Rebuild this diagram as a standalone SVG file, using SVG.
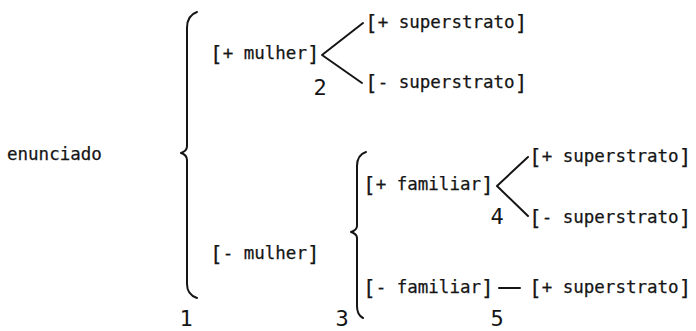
<svg xmlns="http://www.w3.org/2000/svg" width="696" height="331" viewBox="0 0 696 331">
  <style>
    .t { font-family: "DejaVu Sans Mono", "Liberation Mono", monospace; font-size: 17.5px; fill: #151515; stroke: #151515; stroke-width: 0.25; }
    .b { font-size: 21px; }
    .n { font-family: "DejaVu Sans Mono", "Liberation Mono", monospace; font-size: 22px; fill: #151515; text-anchor: middle; }
    .c { fill: none; stroke: #151515; stroke-width: 2; stroke-linecap: round; stroke-linejoin: round; }
  </style>
  <rect width="696" height="331" fill="#ffffff"/>

  <!-- connectors: braces, forks and the single link -->
  <g id="connectors">
    <path class="c" d="M197,12 C191,14 187,19 187,28 L187,146 C187,150 184,152 181,153 C184,154 187,156 187,160 L187,284 C187,292 191,296 197,298"/>
    <path class="c" d="M366,152 C360,154 357,158 357,166 L357,226 C357,229 354,231 351,232 C354,233 357,235 357,238 L357,306 C357,313 359,316 363,318"/>
    <polyline class="c" points="363,23 322,55 362,83"/>
    <polyline class="c" points="528,157 497,186 528,216"/>
    <line class="c" x1="499" y1="288" x2="520" y2="288"/>
  </g>

  <!-- branch numbers -->
  <g id="branch-numbers">
    <text class="n" x="186" y="326">1</text>
    <text class="n" x="320" y="95">2</text>
    <text class="n" x="342" y="326">3</text>
    <text class="n" x="497" y="224">4</text>
    <text class="n" x="497" y="326">5</text>
  </g>

  <!-- bracketed features: brackets set a little larger and lower than the words -->
  <g id="enunciado"><text class="t" x="7" y="160">enunciado</text></g>
  <g id="mulher-plus"><text class="t" x="210" y="59"><tspan class="b" dy="2">[</tspan><tspan dy="-2">+ mulher</tspan><tspan class="b" dy="2">]</tspan></text></g>
  <g id="mulher-minus"><text class="t" x="210" y="259"><tspan class="b" dy="2">[</tspan><tspan dy="-2">- mulher</tspan><tspan class="b" dy="2">]</tspan></text></g>
  <g id="superstrato-a-plus"><text class="t" x="365" y="28"><tspan class="b" dy="2">[</tspan><tspan dy="-2">+ superstrato</tspan><tspan class="b" dy="2">]</tspan></text></g>
  <g id="superstrato-a-minus"><text class="t" x="365" y="88"><tspan class="b" dy="2">[</tspan><tspan dy="-2">- superstrato</tspan><tspan class="b" dy="2">]</tspan></text></g>
  <g id="familiar-plus"><text class="t" x="363" y="190"><tspan class="b" dy="2">[</tspan><tspan dy="-2">+ familiar</tspan><tspan class="b" dy="2">]</tspan></text></g>
  <g id="familiar-minus"><text class="t" x="363" y="293"><tspan class="b" dy="2">[</tspan><tspan dy="-2">- familiar</tspan><tspan class="b" dy="2">]</tspan></text></g>
  <g id="superstrato-b-plus"><text class="t" x="529" y="162"><tspan class="b" dy="2">[</tspan><tspan dy="-2">+ superstrato</tspan><tspan class="b" dy="2">]</tspan></text></g>
  <g id="superstrato-b-minus"><text class="t" x="529" y="223"><tspan class="b" dy="2">[</tspan><tspan dy="-2">- superstrato</tspan><tspan class="b" dy="2">]</tspan></text></g>
  <g id="superstrato-c-plus"><text class="t" x="529" y="293"><tspan class="b" dy="2">[</tspan><tspan dy="-2">+ superstrato</tspan><tspan class="b" dy="2">]</tspan></text></g>
</svg>
